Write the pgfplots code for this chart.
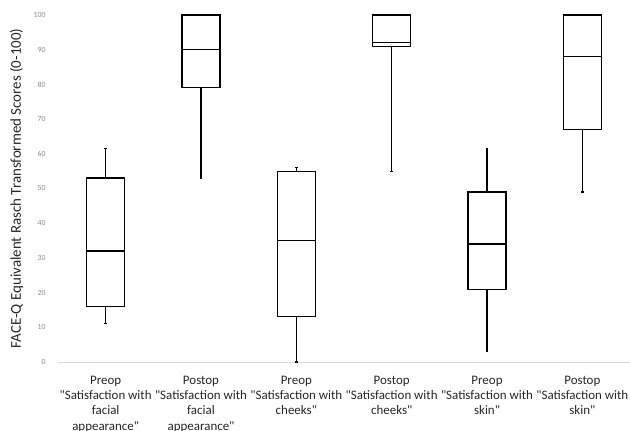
\documentclass[border=0pt]{standalone}
\usepackage{fontspec}
\setmainfont{Carlito}[Ligatures=TeXOff]
\usepackage{pgfplots}
\pgfplotsset{compat=1.18}
\usepgfplotslibrary{statistics}
\begin{document}
\begin{tikzpicture}
\begin{axis}[
  scale only axis,
  width=572bp, height=347bp,
  xmin=-0.5, xmax=5.5, ymin=0, ymax=100,
  clip=false,
  axis lines*=left,
  x axis line style={draw=black!15, line width=0.8bp},
  y axis line style={draw=none},
  tick style={draw=none},
  ytick={0,10,...,100},
  xtick={0,1,2,3,4,5},
  xticklabels={{Preop\\"Satisfaction with\\facial\\appearance"},
               {Postop\\"Satisfaction with\\facial\\appearance"},
               {Preop\\"Satisfaction with\\cheeks"},
               {Postop\\"Satisfaction with\\cheeks"},
               {Preop\\"Satisfaction with\\skin"},
               {Postop\\"Satisfaction with\\skin"}},
  xticklabel style={align=center, font=\fontsize{13}{15.3}\selectfont, text=black!85, anchor=north, yshift=-10.5bp},
  yticklabel style={font=\fontsize{7.8}{8}\selectfont, text=black!45, anchor=east, xshift=-9bp},
  /pgf/number format/assume math mode=true,
  ylabel={FACE-Q Equivalent Rasch Transformed Scores (0-100)},
  ylabel style={at={(axis description cs:-0.0725,0.5)}, anchor=center, font=\fontsize{15}{16}\selectfont, text=black!85},
  boxplot/draw direction=y,
  boxplot/box extend=0.4,
  boxplot/whisker extend=0.03,
]
\addplot[black, line width=1.2bp, boxplot prepared={draw position=0, lower whisker=11, lower quartile=16, median=32, upper quartile=53, upper whisker=61.5}] coordinates {};
\addplot[black, line width=1.2bp, boxplot prepared={draw position=1, lower whisker=53, lower quartile=79, median=90, upper quartile=100, upper whisker=100}] coordinates {};
\addplot[black, line width=1.2bp, boxplot prepared={draw position=2, lower whisker=0, lower quartile=13, median=35, upper quartile=55, upper whisker=56}] coordinates {};
\addplot[black, line width=1.2bp, boxplot prepared={draw position=3, lower whisker=55, lower quartile=91, median=92, upper quartile=100, upper whisker=100}] coordinates {};
\addplot[black, line width=1.2bp, boxplot prepared={draw position=4, lower whisker=3, lower quartile=21, median=34, upper quartile=49, upper whisker=61.5}] coordinates {};
\addplot[black, line width=1.2bp, boxplot prepared={draw position=5, lower whisker=49, lower quartile=67, median=88, upper quartile=100, upper whisker=100}] coordinates {};
\coordinate (A) at (rel axis cs:0,0);
\coordinate (B) at (rel axis cs:1,1);
\end{axis}
\pgfresetboundingbox
\path[use as bounding box] ([xshift=-58bp,yshift=-68bp]A) rectangle ([yshift=15bp]B);
\end{tikzpicture}
\end{document}
